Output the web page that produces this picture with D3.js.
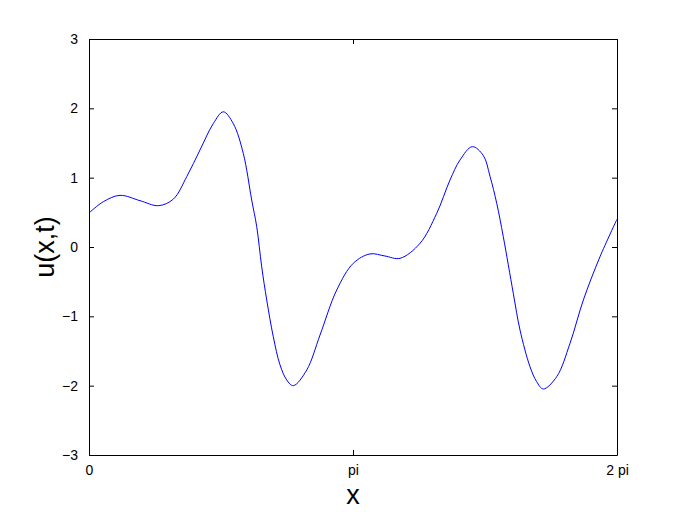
<!DOCTYPE html>
<html>
<head>
<meta charset="utf-8">
<script src="https://cdn.jsdelivr.net/npm/d3@7"></script>
<style>
body { margin: 0; background: #fff; }
svg text { font-family: "Liberation Sans", Arial, sans-serif; }
</style>
</head>
<body>
<svg id="chart" width="681" height="512"></svg>
<script>
// x positions (radians) and u values
var xs = [0, 0.170, 0.369, 0.607, 0.825, 1.003, 1.163, 1.321, 1.479, 1.598, 1.717, 1.836,
          1.936, 1.996, 2.055, 2.115, 2.193, 2.273, 2.353, 2.431, 2.591, 2.749, 2.948, 3.145, 3.344,
          3.522, 3.701, 3.939, 4.138, 4.296, 4.415, 4.561, 4.692, 4.772, 4.852, 4.930, 5.049,
          5.129, 5.248, 5.327, 5.406, 5.566, 5.724, 5.883, 6.081, 6.283];
var us = [0.49, 0.653, 0.745, 0.668, 0.596, 0.69, 1.014, 1.40, 1.78, 1.95, 1.78, 1.35,
          0.678, 0.293, -0.284, -0.764, -1.294, -1.70, -1.918, -2.0, -1.774, -1.27, -0.62, -0.235, -0.10,
          -0.13, -0.163, 0.053, 0.486, 0.966, 1.255, 1.447, 1.32, 1.02, 0.63, 0.149, -0.668,
          -1.197, -1.727, -1.942, -2.048, -1.87, -1.39, -0.764, -0.14, 0.40];
var xTicks = [0, Math.PI, 2 * Math.PI];
var xTickLabels = ["0", "pi", "2 pi"];
var yTicks = [-3, -2, -1, 0, 1, 2, 3];

var data = xs.map(function(d, i){ return {x: d, u: us[i]}; });

var svg = d3.select("#chart");
var plotL = 89, plotR = 617, plotT = 39, plotB = 455;

var xScale = d3.scaleLinear().domain([0, 2 * Math.PI]).range([plotL, plotR]);
var yScale = d3.scaleLinear().domain([-3, 3]).range([plotB, plotT]);

var line = d3.line()
	.x(function(d){ return xScale(d.x); })
	.y(function(d){ return yScale(d.u); })
	.curve(d3.curveCatmullRom.alpha(0.5));

svg.append("path")
	.datum(data)
	.attr("d", line)
	.attr("fill", "none")
	.attr("stroke", "#0000ff")
	.attr("stroke-width", 1);

var fmt = function(d){ return d < 0 ? "\u2212" + Math.abs(d) : String(d); };

// axes with inward ticks, MATLAB style
svg.append("g")
	.attr("transform", "translate(0," + plotB + ")")
	.call(d3.axisBottom(xScale).tickValues(xTicks).tickSizeInner(-5).tickSizeOuter(0).tickPadding(10)
		.tickFormat(function(d, i){ return xTickLabels[i]; }));
svg.append("g")
	.attr("transform", "translate(0," + plotT + ")")
	.call(d3.axisTop(xScale).tickValues(xTicks).tickSizeInner(-5).tickSizeOuter(0).tickFormat(""));
svg.append("g")
	.attr("transform", "translate(" + plotL + ",0)")
	.call(d3.axisLeft(yScale).tickValues(yTicks).tickSizeInner(-5).tickSizeOuter(0).tickPadding(11)
		.tickFormat(fmt));
svg.append("g")
	.attr("transform", "translate(" + plotR + ",0)")
	.call(d3.axisRight(yScale).tickValues(yTicks).tickSizeInner(-5).tickSizeOuter(0).tickFormat(""));

svg.selectAll(".domain").attr("stroke", "#000");
svg.selectAll(".tick line").attr("stroke", "#000");
svg.selectAll(".tick text")
	.attr("fill", "#000")
	.style("font-size", "14px")
	.style("font-family", "'Liberation Sans', Arial, sans-serif");

svg.append("text")
	.attr("x", (plotL + plotR) / 2)
	.attr("y", 504)
	.attr("text-anchor", "middle")
	.style("font-size", "27px")
	.text("x");

svg.append("text")
	.attr("transform", "translate(54," + yScale(0) + ") rotate(-90)")
	.attr("text-anchor", "middle")
	.style("font-size", "27px")
	.text("u(x,t)");
</script>
</body>
</html>
